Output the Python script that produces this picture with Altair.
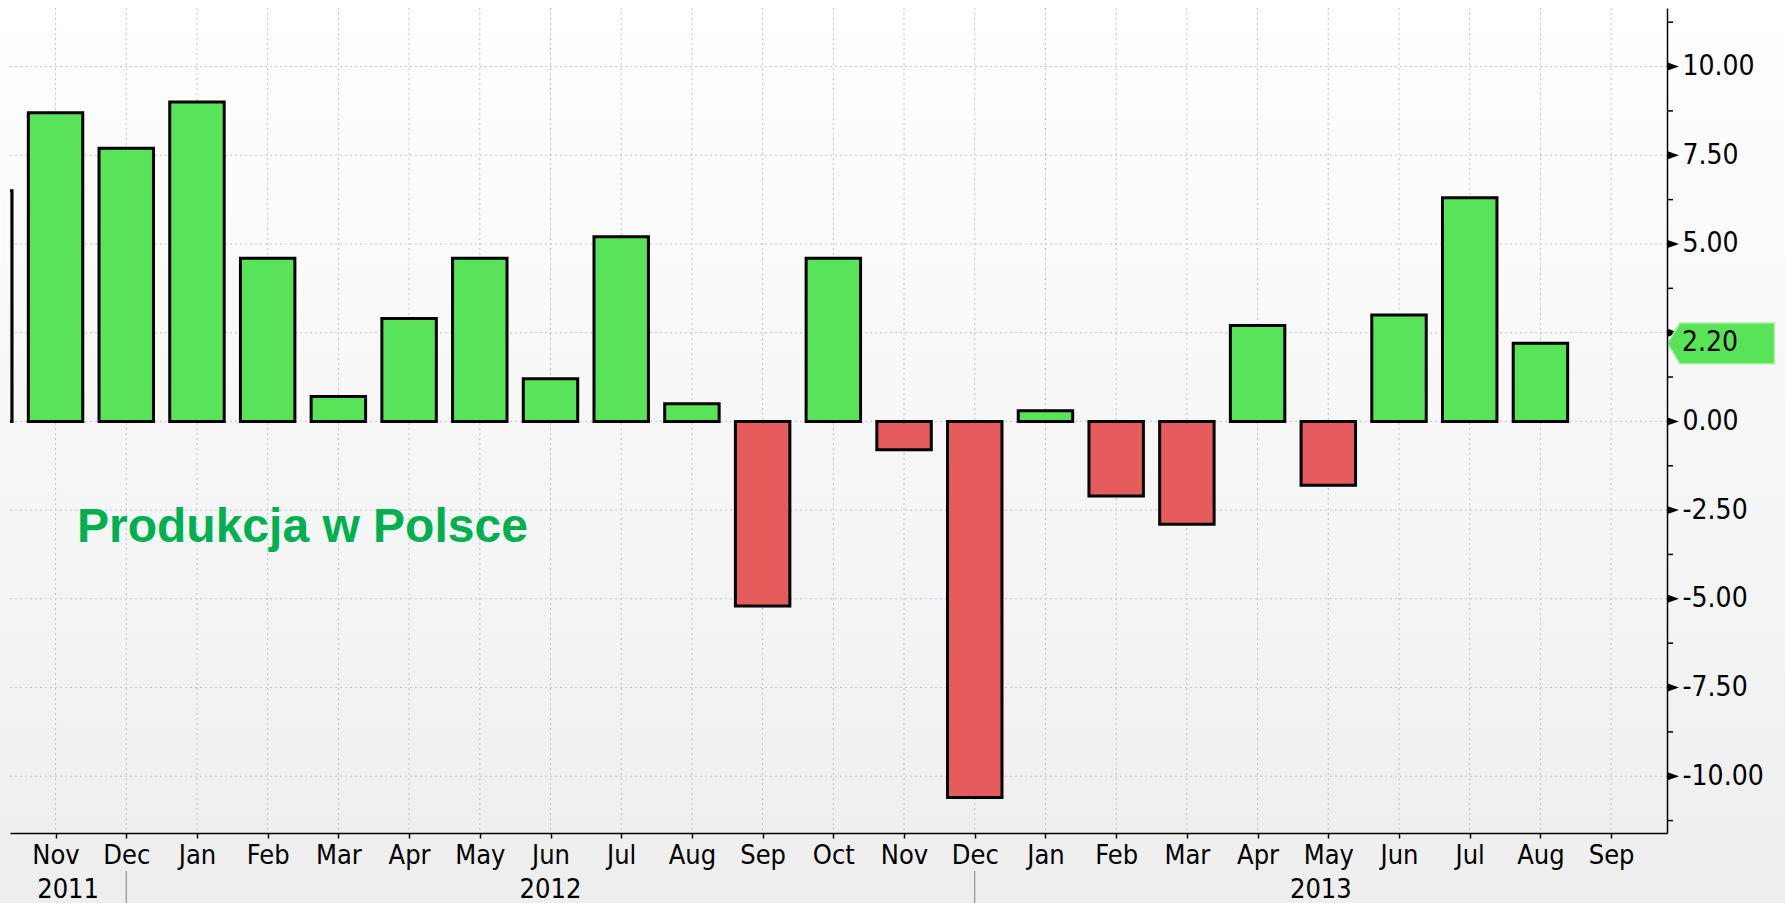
import altair as alt
import pandas as pd

# ---- data ----
# month labels for index -1 (Oct 2011) .. 22 (Sep 2013)
month_labels = ["Oct", "Nov", "Dec", "Jan", "Feb", "Mar", "Apr", "May", "Jun", "Jul", "Aug", "Sep",
                "Oct", "Nov", "Dec", "Jan", "Feb", "Mar", "Apr", "May", "Jun", "Jul", "Aug", "Sep"]
# values Oct 2011 .. Aug 2013 (index -1 .. 21)
values = [6.5, 8.7, 7.7, 9.0, 4.6, 0.7, 2.9, 4.6, 1.2, 5.2, 0.5, -5.2, 4.6, -0.8, -10.6,
          0.3, -2.1, -2.9, 2.7, -1.8, 3.0, 6.3, 2.2]
years = ["2011", "2012", "2013"]
year_breaks = [1, 13]            # month index where year separator sits (Dec ticks)
major_ticks = [-10, -7.5, -5, -2.5, 0, 2.5, 5, 7.5, 10]
label_ticks = [-10, -7.5, -5, -2.5, 0, 5, 7.5, 10]
minor_ticks = [-11.25, -8.75, -6.25, -3.75, -1.25, 1.25, 3.75, 6.25, 8.75, 11.25]
last_value = values[-1]
title_text = "Produkcja w Polsce"

# ---- layout ----
W, H = 1657, 825
PAD = {"left": 10, "top": 8, "right": 118, "bottom": 70}
X_MIN, X_MAX = -0.644, 22.79
Y_MIN, Y_MAX = -11.60, 11.65
HALF = 0.385

GREEN = "#58E358"
RED = "#E65C5C"
GRID = "#BFC4D4"
FONT = "DejaVu Sans Condensed, DejaVu Sans, sans-serif"

df = pd.DataFrame({"idx": list(range(-1, len(values) - 1)), "val": values})
df["sign"] = ["pos" if v >= 0 else "neg" for v in values]
ticks_df = pd.DataFrame({"idx": list(range(0, len(month_labels) - 1))})
major_df = pd.DataFrame({"y": major_ticks})
minor_df = pd.DataFrame({"y": minor_ticks})
bounds = [X_MIN] + year_breaks + [X_MAX]
year_df = pd.DataFrame({"year": years, "a": bounds[:-1], "b": bounds[1:]})
sep_df = pd.DataFrame({"idx": year_breaks})
last_df = pd.DataFrame({"val": [last_value], "txt": [f"{last_value:.2f}"]})
one = pd.DataFrame({"t": [title_text]})

xs = alt.Scale(domain=[X_MIN, X_MAX], nice=False, zero=False)
ys = alt.Scale(domain=[Y_MIN, Y_MAX], nice=False, zero=False)

labels_js = "[" + ",".join(f"'{m}'" for m in month_labels) + "]"
x_axis = alt.Axis(values=list(range(0, len(month_labels) - 1)),
                  labelExpr=f"{labels_js}[datum.value + 1]",
                  tickSize=5, tickColor="black", tickWidth=1.5,
                  domainColor="black", domainWidth=1.5,
                  labelFont=FONT, labelFontSize=27, labelColor="black",
                  labelPadding=4, grid=False, title=None, zindex=1,
                  labelFlush=False, labelOverlap=False, labelBound=False)
y_axis = alt.Axis(orient="right", values=label_ticks,
                  labelExpr="(datum.value < 0 ? '-' : '') + format(abs(datum.value), '.2f')",
                  ticks=False, tickSize=0, labelPadding=15,
                  labelFont=FONT, labelFontSize=28, labelColor="black",
                  domainColor="black", domainWidth=1.5, grid=False, title=None,
                  zindex=1, labelFlush=False, labelOverlap=False, labelBound=False)

def X(field):
    return alt.X(field, type="quantitative", scale=xs, axis=x_axis)

def Y(field):
    return alt.Y(field, type="quantitative", scale=ys, axis=y_axis)

grad = alt.Gradient(gradient="linear",
                    stops=[alt.GradientStop(color="#FFFFFF", offset=0),
                           alt.GradientStop(color="#EEEEEE", offset=1)],
                    x1=0, x2=0, y1=0, y2=1)

bg = alt.Chart(one).mark_rect(fill=grad).encode(
    x=alt.value(-PAD["left"]), x2=alt.value(W + PAD["right"]),
    y=alt.value(-PAD["top"]), y2=alt.value(H + PAD["bottom"]))

vgrid = alt.Chart(ticks_df).mark_rule(color=GRID, strokeDash=[2, 3], strokeWidth=1).encode(
    x=X("idx"))
hgrid = alt.Chart(major_df).mark_rule(color=GRID, strokeDash=[2, 3], strokeWidth=1).encode(
    y=Y("y"))

bars = alt.Chart(df).transform_calculate(
    x0=f"datum.idx - {HALF}", x1=f"datum.idx + {HALF}", zero="0"
).mark_rect(stroke="black", strokeWidth=3, clip=True).encode(
    x=X("x0"), x2="x1",
    y=Y("val"), y2="zero:Q",
    fill=alt.Fill("sign:N", scale=alt.Scale(domain=["pos", "neg"], range=[GREEN, RED]), legend=None))

title = alt.Chart(one).mark_text(font="Liberation Sans", fontWeight="bold", fontSize=48,
                                 color="#00B050", align="left", baseline="alphabetic").encode(
    x=alt.value(67), y=alt.value(534), text="t:N")

minor = alt.Chart(minor_df).mark_rule(color="black", strokeWidth=1.5).encode(
    y=Y("y"), x=alt.value(W), x2=alt.value(W + 6))

tri = alt.Chart(major_df).mark_point(shape="M-1,-0.7L1,0L-1,0.7Z", filled=True, size=144,
                                     color="black", opacity=1).encode(
    y=Y("y"), x=alt.value(W + 6))

tag = alt.Chart(last_df).mark_point(shape="M-1,0L-0.77,-0.38L1,-0.38L1,0.38L-0.77,0.38Z",
                                    filled=True, size=11449, fill=GREEN, stroke="#A8EFA8",
                                    strokeWidth=1.5, opacity=1).encode(
    y=Y("val"), x=alt.value(W + 54))
tag_text = alt.Chart(last_df).mark_text(font=FONT, fontSize=28, color="black",
                                        align="left", baseline="middle").encode(
    y=Y("val"), x=alt.value(W + 15), text="txt:N")

seps = alt.Chart(sep_df).mark_rule(color="#7F7F7F", strokeWidth=1).encode(
    x=X("idx"), y=alt.value(H + 38), y2=alt.value(H + PAD["bottom"]))

year_text = alt.Chart(year_df).transform_calculate(mid="(datum.a + datum.b) / 2").mark_text(
    font=FONT, fontSize=27, color="black", align="center", baseline="alphabetic").encode(
    x=X("mid"), y=alt.value(H + 65), text="year:N")

chart = alt.layer(bg, vgrid, hgrid, bars, title, minor, tri, tag, tag_text, seps, year_text).properties(
    width=W, height=H, padding=PAD, autosize="none", background="#F2F2F2"
).configure_view(stroke=None)

chart.save("out.html", embed_options={"renderer": "svg", "actions": False})
